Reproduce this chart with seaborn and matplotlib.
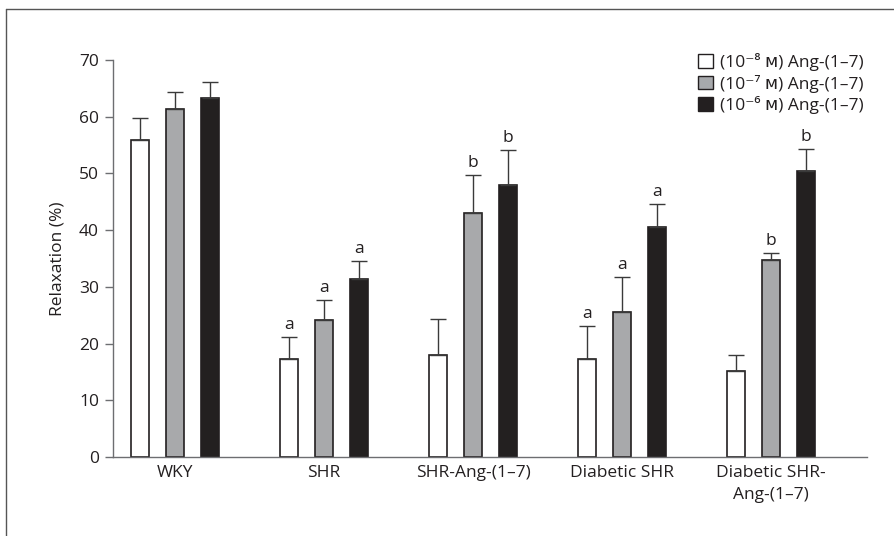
import numpy as np
import pandas as pd
import matplotlib
matplotlib.use("Agg")
import matplotlib.pyplot as plt
from matplotlib.patches import Patch
from matplotlib.lines import Line2D
from matplotlib.container import BarContainer
import seaborn as sns

groups = ["WKY", "SHR", "SHR-Ang-(1\u20137)", "Diabetic SHR", "Diabetic SHR-\nAng-(1\u20137)"]
series = ["(10\u207b\u2078 \u1d0d) Ang-(1\u20137)", "(10\u207b\u2077 \u1d0d) Ang-(1\u20137)", "(10\u207b\u2076 \u1d0d) Ang-(1\u20137)"]
means_1e8 = [55.9, 17.3, 17.9, 17.2, 15.2]
means_1e7 = [61.4, 24.2, 43.0, 25.5, 34.7]
means_1e6 = [63.3, 31.3, 47.9, 40.6, 50.4]
sem_1e8 = [3.8, 3.9, 6.4, 5.9, 2.7]
sem_1e7 = [2.9, 3.5, 6.7, 6.2, 1.3]
sem_1e6 = [2.9, 3.2, 6.3, 4.1, 3.9]
letters_1e8 = ["", "a", "", "a", ""]
letters_1e7 = ["", "a", "b", "a", "b"]
letters_1e6 = ["", "a", "b", "a", "b"]
yticks = [0, 10, 20, 30, 40, 50, 60, 70]

means = [means_1e8, means_1e7, means_1e6]
sems = [sem_1e8, sem_1e7, sem_1e6]
letters = [letters_1e8, letters_1e7, letters_1e6]
colors = ["#ffffff", "#a7a9ac", "#231f20"]
edge = "#231f20"

df = pd.DataFrame({
    "group": [g for s in series for g in groups],
    "conc": [s for s in series for g in groups],
    "value": [v for m in means for v in m],
})

sns.set_style("white")
plt.rcParams["font.family"] = ["Open Sans", "DejaVu Sans"]
FS = 12.5

fig = plt.figure(figsize=(8.94, 5.36), dpi=100)
ax = fig.add_axes([0.1264, 0.1474, 0.8436, 0.7406])

sns.barplot(data=df, x="group", y="value", hue="conc", order=groups, hue_order=series,
            palette=colors, width=0.705, gap=0.485, edgecolor=edge, linewidth=1.2,
            errorbar=None, legend=False, ax=ax)

bar_conts = [c for c in ax.containers if isinstance(c, BarContainer)]
for i, cont in enumerate(bar_conts):
    xs = [p.get_x() + p.get_width() / 2 for p in cont.patches]
    ys = means[i]
    errs = sems[i]
    ax.errorbar(xs, ys, yerr=[np.zeros(len(errs)), errs], fmt="none",
                ecolor="#3a3a3a", elinewidth=1.0, capsize=5.5, capthick=1.0, zorder=1)
    for x, y, e, t in zip(xs, ys, errs, letters[i]):
        if t:
            ax.text(x, y + e + 0.7, t, ha="center", va="bottom", fontsize=FS, color="#231f20")

ax.set_xlim(-0.416, 4.644)
ax.set_ylim(0, 70)
ax.set_yticks(yticks)
ax.set_yticklabels([str(t) for t in yticks], fontsize=FS, color="#231f20")
ax.tick_params(axis="y", which="both", left=True, length=6, width=1, color="#6d6e71", pad=4)
ax.tick_params(axis="x", length=0, pad=6, labelsize=FS, labelcolor="#231f20")
for lbl in ax.get_xticklabels():
    lbl.set_linespacing(1.45)
ax.set_xlabel("")
ax.set_ylabel("Relaxation (%)", fontsize=FS, color="#231f20", labelpad=10)
for s in ["top", "right"]:
    ax.spines[s].set_visible(False)
for s in ["left", "bottom"]:
    ax.spines[s].set_color("#6d6e71")
    ax.spines[s].set_linewidth(1.0)
ax.set_facecolor("none")

handles = [Patch(facecolor=c, edgecolor=edge, linewidth=1.0) for c in colors]
leg = ax.legend(handles, series, loc="upper right", bbox_to_anchor=(1.005, 1.035), frameon=False,
                fontsize=FS, handlelength=0.85, handleheight=0.85, handletextpad=0.45,
                labelspacing=0.2, borderaxespad=0)
for t in leg.get_texts():
    t.set_color("#231f20")

fig.add_artist(Line2D([6 / 894, 6 / 894], [0, 1 - 9 / 536], transform=fig.transFigure,
                      color="#555555", linewidth=1.0))
fig.add_artist(Line2D([6 / 894, 1], [1 - 9 / 536, 1 - 9 / 536], transform=fig.transFigure,
                      color="#555555", linewidth=1.0))

fig.savefig("out.png", dpi=100)
